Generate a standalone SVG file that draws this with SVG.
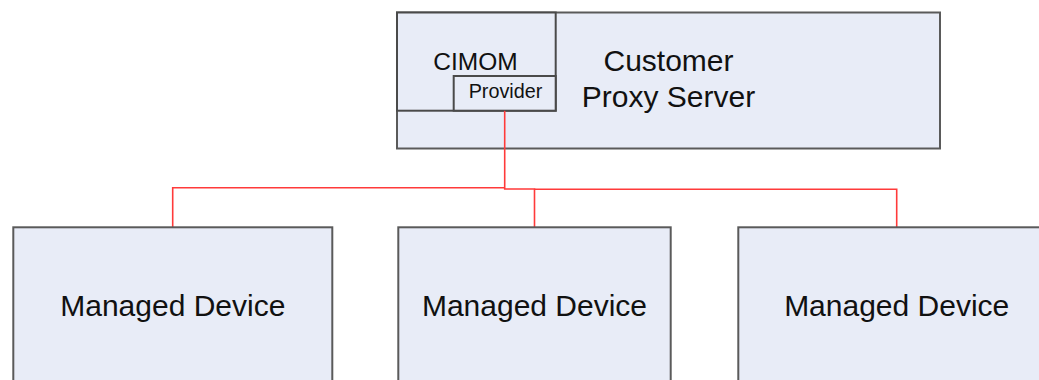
<svg xmlns="http://www.w3.org/2000/svg" width="1039" height="380" viewBox="0 0 1039 380">
  <style>
    .box { fill: #e8ecf7; stroke: #5a5a5a; stroke-width: 2; }
    .inner { fill: #e8ecf7; stroke: #4a4a4a; stroke-width: 2; }
    .label { font-family: "Liberation Sans", Arial, sans-serif; fill: #111; text-anchor: middle; }
    .big { font-size: 30px; }
    .link { fill: none; stroke: #ff3a3a; stroke-width: 1.6; }
  </style>
  <rect width="1039" height="380" fill="#ffffff"/>

  <!-- proxy server with CIMOM and its provider -->
  <g id="proxy-server">
    <rect class="box" x="397" y="12.5" width="543" height="136"/>
    <text class="label big" x="668.5" y="71">Customer</text>
    <text class="label big" x="668.5" y="107.3">Proxy Server</text>
  </g>
  <g id="cimom">
    <rect class="inner" x="397" y="12.5" width="158.7" height="98.2"/>
    <text class="label" font-size="24.5" x="475.5" y="70">CIMOM</text>
  </g>
  <g id="provider">
    <rect class="inner" x="453.7" y="76" width="102" height="34.7"/>
    <text class="label" font-size="19.8" x="505.5" y="97.7">Provider</text>
  </g>

  <!-- connectors from the provider to each device -->
  <g id="connectors">
    <path class="link" d="M504.7 110.7 V189 H534.5 V227.3"/>
    <path class="link" d="M504.7 187.7 H172.7 V227.3"/>
    <path class="link" d="M534.5 189.3 H896.7 V227.3"/>
  </g>

  <!-- managed devices -->
  <g id="device-1">
    <rect class="box" x="13.3" y="227.3" width="319" height="170"/>
    <text class="label big" x="172.8" y="315.7">Managed Device</text>
  </g>
  <g id="device-2">
    <rect class="box" x="398.3" y="227.3" width="272.4" height="170"/>
    <text class="label big" x="534.5" y="315.7">Managed Device</text>
  </g>
  <g id="device-3">
    <rect class="box" x="738.3" y="227.3" width="317" height="170"/>
    <text class="label big" x="896.7" y="315.7">Managed Device</text>
  </g>
</svg>
